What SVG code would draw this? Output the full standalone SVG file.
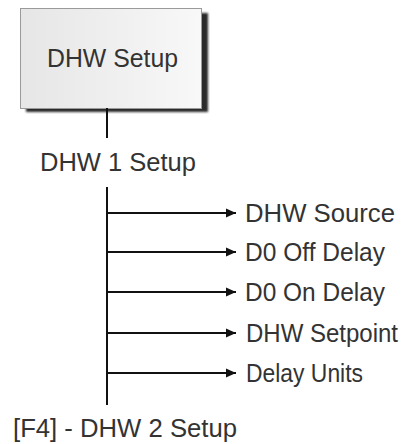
<svg xmlns="http://www.w3.org/2000/svg" width="407" height="444" viewBox="0 0 407 444">
  <style>
    .lbl { font-family: "Liberation Sans", Arial, sans-serif; font-size: 25px; fill: #333; }
    .wire { stroke: #111; stroke-width: 2; fill: none; }
  </style>
  <defs>
    <linearGradient id="boxFill" x1="0" y1="0" x2="1" y2="0">
      <stop offset="0" stop-color="#e6e6e6"/>
      <stop offset="1" stop-color="#f8f8f8"/>
    </linearGradient>
    <filter id="soft" x="-10%" y="-10%" width="120%" height="130%">
      <feGaussianBlur stdDeviation="1.2"/>
    </filter>
    <marker id="arrow" viewBox="0 0 10 10" refX="10" refY="5" markerWidth="10" markerHeight="10" markerUnits="userSpaceOnUse" orient="auto">
      <path d="M0,0.5 L10,5 L0,9.5 Z" fill="#111"/>
    </marker>
  </defs>

  <!-- top-level menu box -->
  <g id="dhw-setup">
    <rect x="26" y="13" width="182" height="99" fill="#2a2a2a" filter="url(#soft)"/>
    <rect x="20.5" y="8.5" width="181" height="100" fill="url(#boxFill)" stroke="#9a9a9a" stroke-width="1"/>
    <text class="lbl" x="47" y="67" textLength="131" lengthAdjust="spacingAndGlyphs">DHW Setup</text>
  </g>

  <g id="dhw1-setup">
    <text class="lbl" x="40" y="171" textLength="156" lengthAdjust="spacingAndGlyphs">DHW 1 Setup</text>
  </g>

  <g id="dhw-source">
    <text class="lbl" x="245" y="222" textLength="150" lengthAdjust="spacingAndGlyphs">DHW Source</text>
  </g>
  <g id="do-off-delay">
    <text class="lbl" x="245" y="261" textLength="140" lengthAdjust="spacingAndGlyphs">D0 Off Delay</text>
  </g>
  <g id="do-on-delay">
    <text class="lbl" x="245" y="301" textLength="140" lengthAdjust="spacingAndGlyphs">D0 On Delay</text>
  </g>
  <g id="dhw-setpoint">
    <text class="lbl" x="246" y="342" textLength="152" lengthAdjust="spacingAndGlyphs">DHW Setpoint</text>
  </g>
  <g id="delay-units">
    <text class="lbl" x="246" y="382" textLength="117" lengthAdjust="spacingAndGlyphs">Delay Units</text>
  </g>

  <g id="dhw2-setup">
    <text class="lbl" x="13" y="437" textLength="224" lengthAdjust="spacingAndGlyphs">[F4] - DHW 2 Setup</text>
  </g>

  <!-- connectors -->
  <g id="connectors">
    <line class="wire" x1="107" y1="108" x2="107" y2="138"/>
    <line class="wire" x1="107" y1="187" x2="107" y2="405"/>
    <line class="wire" x1="107" y1="213" x2="236" y2="213" marker-end="url(#arrow)"/>
    <line class="wire" x1="107" y1="252" x2="236" y2="252" marker-end="url(#arrow)"/>
    <line class="wire" x1="107" y1="292" x2="236" y2="292" marker-end="url(#arrow)"/>
    <line class="wire" x1="107" y1="333" x2="236" y2="333" marker-end="url(#arrow)"/>
    <line class="wire" x1="107" y1="373" x2="236" y2="373" marker-end="url(#arrow)"/>
  </g>
</svg>
